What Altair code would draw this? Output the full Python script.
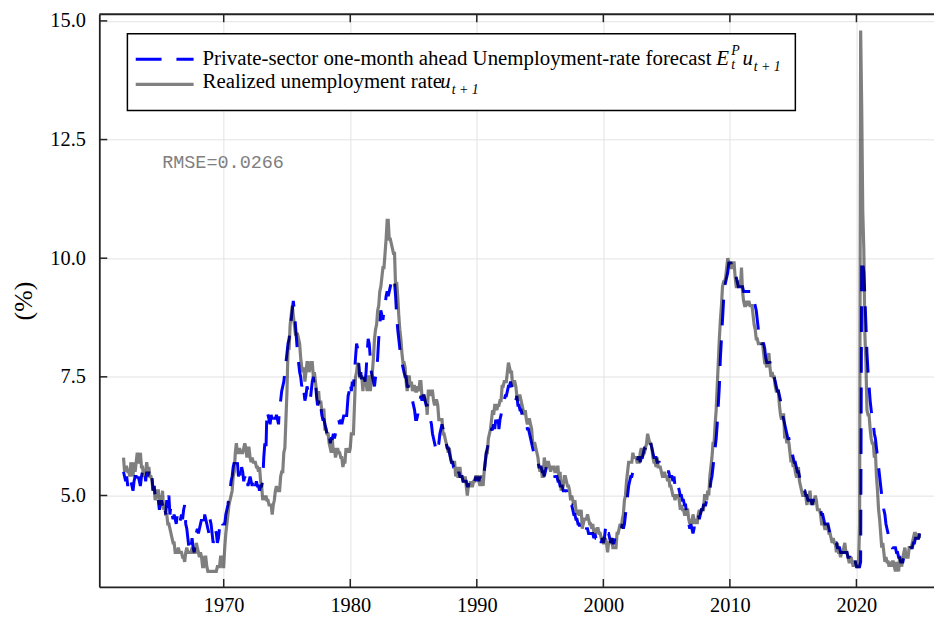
import altair as alt
import pandas as pd

start_year = 1962

# Realized unemployment rate (monthly, one row per year)
realized_1960s = [
    5.8, 5.5, 5.6, 5.6, 5.5, 5.5, 5.4, 5.7, 5.6, 5.4, 5.7, 5.5,
    5.7, 5.9, 5.7, 5.7, 5.9, 5.6, 5.6, 5.4, 5.5, 5.5, 5.7, 5.5,
    5.6, 5.4, 5.4, 5.3, 5.1, 5.2, 4.9, 5.0, 5.1, 5.1, 4.8, 5.0,
    4.9, 5.1, 4.7, 4.8, 4.6, 4.6, 4.4, 4.4, 4.3, 4.2, 4.1, 4.0,
    4.0, 3.8, 3.8, 3.8, 3.9, 3.8, 3.8, 3.8, 3.7, 3.7, 3.6, 3.8,
    3.9, 3.8, 3.8, 3.8, 3.8, 3.9, 3.8, 3.8, 3.8, 4.0, 3.9, 3.8,
    3.7, 3.8, 3.7, 3.5, 3.5, 3.7, 3.7, 3.5, 3.4, 3.4, 3.4, 3.4,
    3.4, 3.4, 3.4, 3.4, 3.4, 3.5, 3.5, 3.5, 3.7, 3.7, 3.5, 3.5,
]
realized_1970s = [
    3.9, 4.2, 4.4, 4.6, 4.8, 4.9, 5.0, 5.1, 5.4, 5.5, 5.9, 6.1,
    5.9, 5.9, 6.0, 5.9, 5.9, 5.9, 6.0, 6.1, 6.0, 5.8, 6.0, 6.0,
    5.8, 5.7, 5.8, 5.7, 5.7, 5.7, 5.6, 5.6, 5.5, 5.6, 5.3, 5.2,
    4.9, 5.0, 4.9, 5.0, 4.9, 4.9, 4.8, 4.8, 4.8, 4.6, 4.8, 4.9,
    5.1, 5.2, 5.1, 5.1, 5.1, 5.4, 5.5, 5.5, 5.9, 6.0, 6.6, 7.2,
    8.1, 8.1, 8.6, 8.8, 9.0, 8.8, 8.6, 8.4, 8.4, 8.4, 8.3, 8.2,
    7.9, 7.7, 7.6, 7.7, 7.4, 7.6, 7.8, 7.8, 7.6, 7.7, 7.8, 7.8,
    7.5, 7.6, 7.4, 7.2, 7.0, 7.2, 6.9, 7.0, 6.8, 6.8, 6.8, 6.4,
    6.4, 6.3, 6.3, 6.1, 6.0, 5.9, 6.2, 5.9, 6.0, 5.8, 5.9, 6.0,
    5.9, 5.9, 5.8, 5.8, 5.6, 5.7, 5.7, 6.0, 5.9, 6.0, 5.9, 6.0,
]
realized_1980s = [
    6.3, 6.3, 6.3, 6.9, 7.5, 7.6, 7.8, 7.7, 7.5, 7.5, 7.5, 7.2,
    7.5, 7.4, 7.4, 7.2, 7.5, 7.5, 7.2, 7.4, 7.6, 7.9, 8.3, 8.5,
    8.6, 8.9, 9.0, 9.3, 9.4, 9.6, 9.8, 9.8, 10.1, 10.4, 10.8, 10.8,
    10.4, 10.4, 10.3, 10.2, 10.1, 10.1, 9.4, 9.5, 9.2, 8.8, 8.5, 8.3,
    8.0, 7.8, 7.8, 7.7, 7.4, 7.2, 7.5, 7.5, 7.3, 7.4, 7.2, 7.3,
    7.3, 7.2, 7.2, 7.3, 7.2, 7.4, 7.4, 7.1, 7.1, 7.1, 7.0, 7.0,
    6.7, 7.2, 7.2, 7.1, 7.2, 7.2, 7.0, 6.9, 7.0, 7.0, 6.9, 6.6,
    6.6, 6.6, 6.6, 6.3, 6.3, 6.2, 6.1, 6.0, 5.9, 6.0, 5.8, 5.7,
    5.7, 5.7, 5.7, 5.4, 5.6, 5.4, 5.4, 5.6, 5.4, 5.4, 5.3, 5.3,
    5.4, 5.2, 5.0, 5.2, 5.2, 5.3, 5.2, 5.2, 5.3, 5.3, 5.4, 5.4,
]
realized_1990s = [
    5.4, 5.3, 5.2, 5.4, 5.4, 5.2, 5.5, 5.7, 5.9, 5.9, 6.2, 6.3,
    6.4, 6.6, 6.8, 6.7, 6.9, 6.9, 6.8, 6.9, 6.9, 7.0, 7.0, 7.3,
    7.3, 7.4, 7.4, 7.4, 7.6, 7.8, 7.7, 7.6, 7.6, 7.3, 7.4, 7.4,
    7.3, 7.1, 7.0, 7.1, 7.1, 7.0, 6.9, 6.8, 6.7, 6.8, 6.6, 6.5,
    6.6, 6.6, 6.5, 6.4, 6.1, 6.1, 6.1, 6.0, 5.9, 5.8, 5.6, 5.5,
    5.6, 5.4, 5.4, 5.8, 5.6, 5.6, 5.7, 5.7, 5.6, 5.5, 5.6, 5.6,
    5.6, 5.5, 5.5, 5.6, 5.6, 5.3, 5.5, 5.1, 5.2, 5.2, 5.4, 5.4,
    5.3, 5.2, 5.2, 5.1, 4.9, 5.0, 4.9, 4.8, 4.9, 4.7, 4.6, 4.7,
    4.6, 4.6, 4.7, 4.3, 4.4, 4.5, 4.5, 4.5, 4.6, 4.5, 4.4, 4.4,
    4.3, 4.4, 4.2, 4.3, 4.2, 4.3, 4.3, 4.2, 4.2, 4.1, 4.1, 4.0,
]
realized_2000s = [
    4.0, 4.1, 4.0, 3.8, 4.0, 4.0, 4.0, 4.1, 3.9, 3.9, 3.9, 3.9,
    4.2, 4.2, 4.3, 4.4, 4.3, 4.5, 4.6, 4.9, 5.0, 5.3, 5.5, 5.7,
    5.7, 5.7, 5.7, 5.9, 5.8, 5.8, 5.8, 5.7, 5.7, 5.7, 5.9, 6.0,
    5.8, 5.9, 5.9, 6.0, 6.1, 6.3, 6.2, 6.1, 6.1, 6.0, 5.8, 5.7,
    5.7, 5.6, 5.8, 5.6, 5.6, 5.6, 5.5, 5.4, 5.4, 5.5, 5.4, 5.4,
    5.3, 5.4, 5.2, 5.2, 5.1, 5.0, 5.0, 4.9, 5.0, 5.0, 5.0, 4.9,
    4.7, 4.8, 4.7, 4.7, 4.6, 4.6, 4.7, 4.7, 4.5, 4.4, 4.5, 4.4,
    4.6, 4.5, 4.4, 4.5, 4.4, 4.6, 4.7, 4.6, 4.7, 4.7, 4.7, 5.0,
    5.0, 4.9, 5.1, 5.0, 5.4, 5.6, 5.8, 6.1, 6.1, 6.5, 6.8, 7.3,
    7.8, 8.3, 8.7, 9.0, 9.4, 9.5, 9.5, 9.6, 9.8, 10.0, 9.9, 9.9,
]
realized_2010s = [
    9.8, 9.8, 9.9, 9.9, 9.6, 9.4, 9.4, 9.5, 9.5, 9.4, 9.8, 9.3,
    9.1, 9.0, 9.0, 9.1, 9.0, 9.1, 9.0, 9.0, 9.0, 8.8, 8.6, 8.5,
    8.3, 8.3, 8.2, 8.2, 8.2, 8.2, 8.2, 8.0, 7.8, 7.8, 7.7, 7.9,
    8.0, 7.7, 7.5, 7.6, 7.5, 7.5, 7.3, 7.2, 7.2, 7.2, 6.9, 6.7,
    6.6, 6.7, 6.7, 6.2, 6.3, 6.1, 6.2, 6.1, 5.9, 5.7, 5.8, 5.6,
    5.7, 5.5, 5.4, 5.4, 5.6, 5.3, 5.2, 5.1, 5.0, 5.0, 5.1, 5.0,
    4.8, 4.9, 5.0, 5.1, 4.8, 4.9, 4.8, 4.9, 5.0, 4.9, 4.7, 4.7,
    4.7, 4.6, 4.4, 4.4, 4.4, 4.3, 4.3, 4.4, 4.3, 4.2, 4.2, 4.1,
    4.0, 4.1, 4.0, 4.0, 3.8, 4.0, 3.8, 3.8, 3.7, 3.8, 3.8, 3.9,
    4.0, 3.8, 3.8, 3.7, 3.6, 3.6, 3.7, 3.6, 3.5, 3.6, 3.6, 3.6,
]
realized_2020s = [
    3.5, 3.5, 4.4, 14.8, 13.2, 11.0, 10.2, 8.4, 7.8, 6.8, 6.7, 6.7,
    6.4, 6.2, 6.1, 6.1, 5.8, 5.9, 5.4, 5.1, 4.7, 4.5, 4.2, 3.9,
    4.0, 3.8, 3.6, 3.7, 3.6, 3.6, 3.5, 3.6, 3.5, 3.6, 3.6, 3.5,
    3.4, 3.6, 3.5, 3.4, 3.7, 3.6, 3.5, 3.7, 3.8, 3.9, 3.7, 3.7,
    3.7, 3.9, 3.9, 3.9, 4.0, 4.1, 4.2, 4.2, 4.1, 4.1, 4.2, 4.1,
]

# Private-sector one-month-ahead forecast (monthly, one row per year)
forecast_1960s = [
    5.5, 5.4, 5.3, 5.4, 5.2, 5.4, 5.3, 5.3, 5.2, 5.1, 5.3, 5.4,
    5.4, 5.2, 5.4, 5.3, 5.2, 5.4, 5.5, 5.4, 5.5, 5.3, 5.5, 5.4,
    5.5, 5.4, 5.3, 5.4, 5.1, 5.2, 5.0, 4.9, 4.8, 4.9, 4.7, 4.8,
    4.9, 4.8, 4.7, 4.8, 4.6, 4.9, 4.7, 5.0, 4.6, 4.8, 4.6, 4.5,
    4.6, 4.5, 4.4, 4.6, 4.5, 4.4, 4.5, 4.6, 4.5, 4.7, 4.8, 4.4,
    4.3, 4.1, 3.9, 3.8, 3.9, 4.1, 3.9, 3.8, 4.0, 4.2, 4.3, 4.2,
    4.3, 4.4, 4.5, 4.4, 4.3, 4.6, 4.5, 4.4, 4.3, 4.2, 4.5, 4.4,
    4.2, 4.0, 4.1, 4.3, 4.2, 4.0, 4.1, 4.3, 4.4, 4.5, 4.4, 4.4,
]
forecast_1970s = [
    4.4, 4.6, 4.7, 4.8, 5.0, 5.1, 5.3, 5.4, 5.6, 5.7, 5.6, 5.5,
    5.7, 5.4, 5.5, 5.3, 5.6, 5.5, 5.3, 5.4, 5.3, 5.4, 5.2, 5.3,
    5.4, 5.3, 5.2, 5.4, 5.3, 5.2, 5.3, 5.2, 5.2, 5.1, 5.2, 5.2,
    5.3, 5.8, 6.1, 5.9, 6.8, 6.7, 6.6, 6.5, 6.7, 6.6, 6.8, 6.7,
    6.6, 6.7, 6.6, 6.5, 6.9, 7.0, 7.2, 7.3, 7.4, 7.6, 7.8, 8.0,
    8.2, 8.3, 8.5, 8.7, 8.9, 9.1, 8.9, 8.6, 8.3, 8.0, 7.8, 7.6,
    7.5, 7.3, 7.4, 7.2, 7.0, 7.1, 7.3, 7.2, 7.1, 7.0, 7.2, 7.4,
    7.5, 7.3, 7.4, 7.1, 6.9, 7.0, 6.8, 6.9, 6.7, 6.6, 6.6, 6.5,
    6.4, 6.3, 6.2, 6.3, 6.1, 6.2, 6.2, 6.3, 6.2, 6.3, 6.4, 6.5,
    6.6, 6.5, 6.6, 6.5, 6.6, 6.7, 6.6, 6.5, 6.8, 7.1, 7.2, 7.4,
]
forecast_1980s = [
    7.2, 7.4, 7.3, 7.6, 7.9, 8.2, 8.1, 7.8, 7.5, 7.6, 7.4, 7.3,
    7.5, 7.4, 7.6, 8.0, 8.3, 8.2, 7.9, 7.6, 7.5, 7.4, 7.3, 7.5,
    7.6, 7.9, 8.3, 8.6, 8.9, 8.8, 8.7, 8.9, 9.0, 9.2, 9.3, 9.2,
    9.3, 9.4, 9.5, 9.5, 9.4, 9.5, 9.2, 8.8, 8.5, 8.3, 8.1, 7.9,
    7.8, 7.7, 7.6, 7.5, 7.5, 7.3, 7.3, 7.2, 7.2, 7.1, 7.0, 6.9,
    6.8, 6.6, 6.6, 6.7, 6.9, 7.0, 7.1, 7.0, 7.1, 7.1, 7.0, 6.9,
    6.9, 6.8, 6.7, 6.6, 6.5, 6.3, 6.2, 6.1, 6.0, 5.9, 6.0, 6.1,
    6.3, 6.4, 6.5, 6.4, 6.3, 6.2, 6.1, 6.0, 6.0, 5.9, 5.8, 5.7,
    5.7, 5.6, 5.6, 5.5, 5.5, 5.4, 5.5, 5.4, 5.4, 5.4, 5.3, 5.3,
    5.3, 5.3, 5.2, 5.2, 5.3, 5.3, 5.3, 5.4, 5.3, 5.3, 5.4, 5.3,
]
forecast_1990s = [
    5.4, 5.3, 5.4, 5.3, 5.4, 5.5, 5.5, 5.7, 5.9, 6.0, 6.1, 6.2,
    6.3, 6.4, 6.4, 6.5, 6.4, 6.6, 6.5, 6.7, 6.4, 6.6, 6.7, 6.8,
    6.9, 7.0, 7.1, 7.1, 7.2, 7.3, 7.3, 7.4, 7.3, 7.2, 7.1, 7.0,
    7.0, 7.1, 6.9, 6.9, 6.8, 6.8, 6.7, 6.6, 6.6, 6.5, 6.5, 6.4,
    6.4, 6.3, 6.2, 6.1, 6.0, 5.9, 5.9, 5.8, 5.8, 5.7, 5.6, 5.6,
    5.6, 5.5, 5.5, 5.4, 5.5, 5.6, 5.6, 5.5, 5.5, 5.5, 5.5, 5.5,
    5.5, 5.4, 5.4, 5.4, 5.3, 5.3, 5.2, 5.2, 5.2, 5.1, 5.1, 5.1,
    5.1, 5.0, 4.9, 4.9, 4.8, 4.8, 4.7, 4.6, 4.6, 4.5, 4.5, 4.4,
    4.4, 4.3, 4.3, 4.3, 4.2, 4.2, 4.2, 4.3, 4.3, 4.2, 4.2, 4.2,
    4.2, 4.2, 4.1, 4.2, 4.1, 4.1, 4.0, 4.1, 4.1, 4.0, 4.1, 4.0,
]
forecast_2000s = [
    4.1, 4.3, 4.4, 4.2, 4.2, 4.1, 4.0, 4.1, 4.0, 4.0, 4.1, 4.1,
    4.1, 4.2, 4.2, 4.3, 4.3, 4.4, 4.3, 4.4, 4.6, 4.8, 5.0, 5.2,
    5.3, 5.4, 5.4, 5.5, 5.5, 5.6, 5.7, 5.7, 5.8, 5.8, 5.7, 5.8,
    5.8, 5.9, 6.0, 6.0, 6.1, 6.0, 6.0, 6.0, 6.1, 6.0, 5.9, 5.8,
    5.8, 5.8, 5.7, 5.7, 5.7, 5.6, 5.6, 5.6, 5.6, 5.6, 5.5, 5.5,
    5.5, 5.5, 5.4, 5.4, 5.4, 5.3, 5.4, 5.2, 5.3, 5.2, 5.2, 5.1,
    5.0, 5.0, 4.9, 4.9, 4.8, 4.8, 4.6, 4.5, 4.4, 4.3, 4.4, 4.3,
    4.2, 4.3, 4.5, 4.5, 4.5, 4.6, 4.5, 4.6, 4.7, 4.7, 4.8, 4.8,
    4.8, 4.9, 5.0, 5.0, 5.1, 5.3, 5.4, 5.6, 5.8, 6.0, 6.2, 6.5,
    6.9, 7.3, 7.9, 8.3, 8.7, 9.1, 9.4, 9.5, 9.6, 9.7, 9.9, 9.9,
]
forecast_2010s = [
    9.9, 9.8, 9.8, 9.8, 9.7, 9.6, 9.5, 9.4, 9.4, 9.4, 9.4, 9.4,
    9.3, 9.3, 9.3, 9.3, 9.3, 9.3, 9.3, 9.3, 9.3, 9.2, 9.1, 9.0,
    8.9, 8.7, 8.5, 8.3, 8.3, 8.2, 8.2, 8.2, 8.1, 7.9, 7.8, 7.8,
    7.8, 7.8, 7.7, 7.6, 7.5, 7.5, 7.4, 7.3, 7.2, 7.2, 7.1, 7.0,
    6.8, 6.7, 6.6, 6.5, 6.4, 6.3, 6.2, 6.2, 6.1, 6.0, 5.9, 5.8,
    5.7, 5.7, 5.6, 5.5, 5.5, 5.4, 5.3, 5.3, 5.2, 5.1, 5.1, 5.0,
    5.0, 4.9, 4.9, 4.9, 4.9, 4.8, 4.9, 4.9, 4.9, 4.9, 4.9, 4.8,
    4.7, 4.7, 4.6, 4.6, 4.5, 4.4, 4.4, 4.4, 4.4, 4.3, 4.2, 4.2,
    4.1, 4.1, 4.1, 4.0, 4.0, 3.9, 3.9, 3.9, 3.8, 3.8, 3.8, 3.8,
    3.8, 3.8, 3.8, 3.7, 3.7, 3.7, 3.6, 3.7, 3.6, 3.6, 3.6, 3.5,
]
forecast_2020s = [
    3.5, 3.5, 3.5, 3.6, 10.0, 9.9, 9.7, 9.2, 8.6, 8.0, 7.6, 7.3,
    7.0, 6.8, 6.6, 6.5, 6.3, 6.2, 6.0, 5.8, 5.6, 5.4, 5.2, 5.0,
    4.9, 4.7, 4.6, 4.4, 4.3, 4.2, 4.1, 4.0, 4.0, 3.9, 3.9, 3.9,
    3.9, 3.8, 3.8, 3.7, 3.7, 3.6, 3.6, 3.6, 3.7, 3.7, 3.8, 3.8,
    3.8, 3.8, 3.9, 3.9, 3.9, 4.0, 4.0, 4.1, 4.1, 4.1, 4.1, 4.2,
]

x_ticks = [1970, 1980, 1990, 2000, 2010, 2020]
y_ticks = [5.0, 7.5, 10.0, 12.5, 15.0]

legend_forecast = "Private-sector one-month ahead Unemployment-rate forecast"
legend_realized = "Realized unemployment rate"
rmse_label = "RMSE=0.0266"
y_title = "(%)"

realized = (realized_1960s + realized_1970s + realized_1980s + realized_1990s
            + realized_2000s + realized_2010s + realized_2020s)
forecast = (forecast_1960s + forecast_1970s + forecast_1980s + forecast_1990s
            + forecast_2000s + forecast_2010s + forecast_2020s)
n = min(len(realized), len(forecast))
t = [start_year + (i + 1) / 12 for i in range(n)]
df = pd.DataFrame({"t": t, "realized": realized[:n], "forecast": forecast[:n]})

W, H = 841, 577
SERIF = "Liberation Serif"
FRAME = "#222222"

x_scale = alt.Scale(domain=[1960.17, 2026.13], nice=False, zero=False)
y_scale = alt.Scale(domain=[3.073, 15.14], nice=False, zero=False)

x_axis = alt.Axis(values=x_ticks, format="d", title=None, grid=True, labelFlush=False)
y_axis = alt.Axis(values=y_ticks, format=".1f", title=None, grid=True)

one = pd.DataFrame({"k": [0]})

blue = alt.Chart(df).mark_line(
    color="#0000ff", strokeWidth=3, strokeDash=[26, 15], clip=True
).encode(
    x=alt.X("t:Q", scale=x_scale, axis=x_axis),
    y=alt.Y("forecast:Q", scale=y_scale, axis=y_axis),
)

gray = alt.Chart(df).mark_line(
    color="black", strokeOpacity=0.5, strokeWidth=3.2, clip=True
).encode(
    x=alt.X("t:Q", scale=x_scale, axis=x_axis),
    y=alt.Y("realized:Q", scale=y_scale, axis=y_axis),
)

xt = pd.DataFrame({"t": x_ticks})
yt = pd.DataFrame({"realized": y_ticks})
tick_style = dict(color=FRAME, strokeWidth=1.5)

bottom_ticks = alt.Chart(xt).mark_rule(**tick_style).encode(
    x=alt.X("t:Q", scale=x_scale, axis=x_axis), y=alt.value(H), y2=alt.value(H - 8)
)
top_ticks = alt.Chart(xt).mark_rule(**tick_style).encode(
    x=alt.X("t:Q", scale=x_scale, axis=x_axis), y=alt.value(0), y2=alt.value(8)
)
left_ticks = alt.Chart(yt).mark_rule(**tick_style).encode(
    y=alt.Y("realized:Q", scale=y_scale, axis=y_axis), x=alt.value(0), x2=alt.value(8)
)
top_frame = alt.Chart(one).mark_rule(color=FRAME, strokeWidth=1.8).encode(
    x=alt.value(0), x2=alt.value(W), y=alt.value(0)
)

legend_box = alt.Chart(one).mark_rect(
    fill="white", stroke="black", strokeWidth=1.5
).encode(x=alt.value(28.3), x2=alt.value(701.3), y=alt.value(19.7), y2=alt.value(97))

legend_blue = alt.Chart(one).mark_rule(
    color="#0000ff", strokeWidth=3, strokeDash=[26, 15]
).encode(x=alt.value(36.7), x2=alt.value(95), y=alt.value(45.3))
legend_gray = alt.Chart(one).mark_rule(
    color="#808080", strokeWidth=3.2
).encode(x=alt.value(36.7), x2=alt.value(95), y=alt.value(70.7))


def txt(s, x, y, size=21, italic=False, font=SERIF, color="black", align="left"):
    kw = dict(align=align, baseline="alphabetic", font=font, fontSize=size, color=color)
    if italic:
        kw["fontStyle"] = "italic"
    return alt.Chart(one).mark_text(**kw).encode(
        x=alt.value(x), y=alt.value(y), text=alt.value(s)
    )


texts = [
    txt(legend_forecast, 104, 50.8),
    txt("E", 621.7, 50.8, italic=True),
    txt("P", 636.7, 40.8, size=14, italic=True),
    txt("t", 636.7, 55.0, size=14, italic=True),
    txt("u", 648, 50.8, italic=True),
    txt("t + 1", 659.3, 57.5, size=14, italic=True),
    txt(legend_realized, 104, 74),
    txt("u", 343.5, 74, italic=True),
    txt("t + 1", 355, 80.5, size=14, italic=True),
    txt(rmse_label, 63.3, 155.3, size=18.6, font="Liberation Mono", color="#808080"),
]

y_title_mark = alt.Chart(one).mark_text(
    angle=270, font=SERIF, fontSize=26, align="center", baseline="middle", color="black"
).encode(x=alt.value(-76), y=alt.value(289), text=alt.value(y_title))

chart = alt.layer(
    blue, gray, bottom_ticks, top_ticks, left_ticks, top_frame,
    legend_box, legend_blue, legend_gray, *texts, y_title_mark
).properties(
    width=W, height=H,
    autosize=alt.AutoSizeParams(type="none"),
    padding={"left": 92, "top": 4, "right": 0, "bottom": 30},
    background="white",
).configure_view(
    stroke=None
).configure_axis(
    labelFont=SERIF, labelFontSize=20.5, labelColor="black",
    domainColor=FRAME, domainWidth=1.8,
    ticks=False, tickSize=0,
    gridColor="#e3e3e3", gridWidth=1,
).configure_axisX(
    labelPadding=9
).configure_axisY(
    labelPadding=14
)

chart.save("out.html", embed_options={"renderer": "svg", "actions": False})
